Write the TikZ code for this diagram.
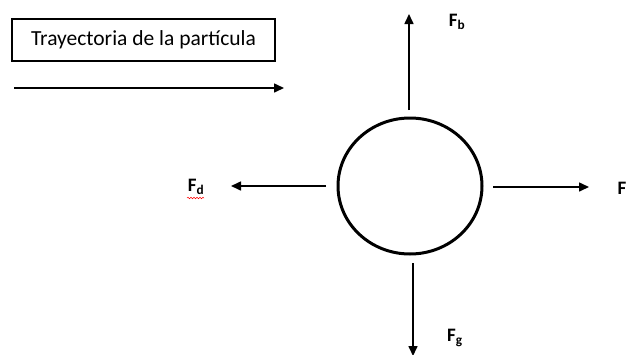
\documentclass[tikz,border=0pt]{standalone}
\usepackage{fontspec}
\setmainfont{Carlito}
\usetikzlibrary{arrows.meta,decorations.pathmorphing,shapes.geometric}
\begin{document}
\begin{tikzpicture}[x=1pt,y=-1pt,
  force/.style={line width=1.6pt,-{Triangle[length=10pt,width=9pt]}},
  flabel/.style={font=\fontsize{19}{22}\selectfont\bfseries,inner sep=0pt}]
\useasboundingbox (0,0) rectangle (627,354);
\node[draw,line width=1.5pt,minimum width=263pt,minimum height=42pt,inner sep=0pt,font=\fontsize{21.5}{24}\selectfont] (box) at (143.5,40) {Trayectoria de la partícula};
\coordinate (ta) at (14,88);
\coordinate (tb) at (284,88);
\draw[force] (ta) -- (tb);
\node[draw,ellipse,line width=3pt,minimum width=144pt,minimum height=136pt,inner sep=0pt] (p) at (410,186) {};
\coordinate (ub) at (409,110);
\coordinate (ut) at (409,14);
\draw[force] (ub) -- (ut);
\coordinate (db) at (413,263);
\coordinate (dt) at (413,356);
\draw[force] (db) -- (dt);
\coordinate (lb) at (326,186);
\coordinate (lt) at (231,186);
\draw[force] (lb) -- (lt);
\coordinate (rb) at (493,187);
\coordinate (rt) at (589,187);
\draw[force] (rb) -- (rt);
\node[flabel] (fb) at (457,22) {F\textsubscript{b}};
\node[flabel] (fd) at (196,187) {F\textsubscript{d}};
\draw[red,line width=0.5pt,decorate,decoration={snake,amplitude=0.8pt,segment length=3pt}] (187,198) -- (204,198);
\node[flabel] (f) at (622,188) {F};
\node[flabel] (fg) at (455,338) {F\textsubscript{g}};
\end{tikzpicture}
\end{document}
